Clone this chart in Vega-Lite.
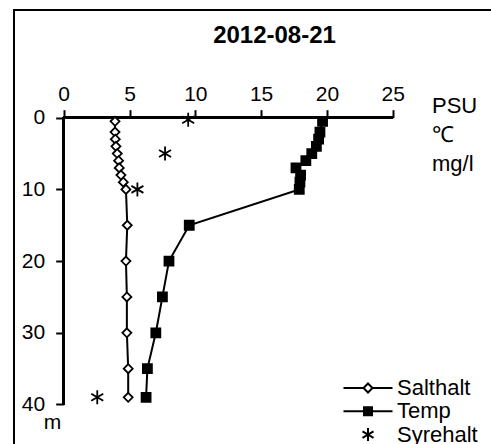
{
  "$schema": "https://vega.github.io/schema/vega-lite/v6.json",
  "autosize": {"type": "none"},
  "padding": {"left": 14, "top": 10, "right": 0, "bottom": 0},
  "width": 477,
  "height": 434,
  "background": "white",
  "title": {
    "text": "2012-08-21",
    "font": "Liberation Sans",
    "fontSize": 24,
    "fontWeight": "bold",
    "color": "black",
    "anchor": "middle",
    "frame": "group",
    "dx": 22,
    "offset": -57,
    "baseline": "alphabetic"
  },
  "config": {
    "view": {"stroke": "black", "strokeWidth": 2, "strokeDash": [477, 911, 434], "fill": "white"},
    "axis": {
      "domain": false,
      "grid": false,
      "ticks": true,
      "tickColor": "black",
      "tickWidth": 2,
      "tickSize": 8,
      "labelColor": "black",
      "labelFont": "Liberation Sans",
      "labelFontSize": 21,
      "labelFlush": false,
      "labelOverlap": false,
      "titleColor": "black",
      "titleFont": "Liberation Sans",
      "titleFontWeight": "normal"
    }
  },
  "data": {
    "values": [
      {"param": "Salthalt", "depth": 0.5, "value": 3.9},
      {"param": "Salthalt", "depth": 2, "value": 3.9},
      {"param": "Salthalt", "depth": 3, "value": 3.92},
      {"param": "Salthalt", "depth": 4, "value": 3.97},
      {"param": "Salthalt", "depth": 5, "value": 4.07},
      {"param": "Salthalt", "depth": 6, "value": 4.17},
      {"param": "Salthalt", "depth": 7, "value": 4.22},
      {"param": "Salthalt", "depth": 8, "value": 4.35},
      {"param": "Salthalt", "depth": 9, "value": 4.53},
      {"param": "Salthalt", "depth": 10, "value": 4.73},
      {"param": "Salthalt", "depth": 15, "value": 4.83},
      {"param": "Salthalt", "depth": 20, "value": 4.73},
      {"param": "Salthalt", "depth": 25, "value": 4.8},
      {"param": "Salthalt", "depth": 30, "value": 4.8},
      {"param": "Salthalt", "depth": 35, "value": 4.9},
      {"param": "Salthalt", "depth": 39, "value": 4.9},
      {"param": "Temp", "depth": 0.5, "value": 19.67},
      {"param": "Temp", "depth": 2, "value": 19.47},
      {"param": "Temp", "depth": 3, "value": 19.37},
      {"param": "Temp", "depth": 4, "value": 19.2},
      {"param": "Temp", "depth": 5, "value": 18.85},
      {"param": "Temp", "depth": 6, "value": 18.4},
      {"param": "Temp", "depth": 7, "value": 17.65},
      {"param": "Temp", "depth": 8, "value": 18.0},
      {"param": "Temp", "depth": 9, "value": 17.95},
      {"param": "Temp", "depth": 10, "value": 17.9},
      {"param": "Temp", "depth": 15, "value": 9.54},
      {"param": "Temp", "depth": 20, "value": 8.0},
      {"param": "Temp", "depth": 25, "value": 7.5},
      {"param": "Temp", "depth": 30, "value": 7.0},
      {"param": "Temp", "depth": 35, "value": 6.36},
      {"param": "Temp", "depth": 39, "value": 6.26},
      {"param": "Syrehalt", "depth": 0.3, "value": 9.46},
      {"param": "Syrehalt", "depth": 5, "value": 7.7},
      {"param": "Syrehalt", "depth": 10, "value": 5.6},
      {"param": "Syrehalt", "depth": 39, "value": 2.55}
    ]
  },
  "resolve": {"scale": {"shape": "independent"}, "legend": {"shape": "independent"}},
  "layer": [
    {
      "mark": {"type": "rule", "color": "black", "strokeWidth": 2},
      "encoding": {
        "x": {"datum": 0, "type": "quantitative"},
        "x2": {"datum": 25},
        "y": {"datum": 0, "type": "quantitative"}
      }
    },
    {
      "mark": {"type": "rule", "color": "black", "strokeWidth": 2},
      "encoding": {
        "x": {"datum": 0, "type": "quantitative"},
        "y": {"datum": 0, "type": "quantitative"},
        "y2": {"datum": 40}
      }
    },
    {
      "transform": [{"filter": "datum.param !== 'Syrehalt'"}],
      "mark": {"type": "line", "color": "black", "strokeWidth": 2},
      "encoding": {
        "x": {
          "field": "value", "type": "quantitative",
          "scale": {"domain": [-3.777, 32.469], "nice": false, "zero": false},
          "axis": {
            "orient": "top",
            "values": [0, 5, 10, 15, 20, 25],
            "offset": -107.7,
            "labelPadding": 5,
            "title": ["PSU", "℃", "mg/l"],
            "titleFontSize": 22,
            "titleLineHeight": 29,
            "titleAngle": 0,
            "titleAlign": "left",
            "titleBaseline": "alphabetic",
            "titleX": 417.5,
            "titleY": -5.7
          }
        },
        "y": {
          "field": "depth", "type": "quantitative",
          "scale": {"domain": [-15.02, 45.51], "nice": false, "zero": false, "reverse": true},
          "axis": {
            "orient": "left",
            "values": [0, 10, 20, 30, 40],
            "offset": -49.7,
            "labelPadding": 11,
            "title": "m",
            "titleFontSize": 21,
            "titleAngle": 0,
            "titleAlign": "center",
            "titleBaseline": "alphabetic",
            "titleX": -11.7,
            "titleY": 418
          }
        },
        "detail": {"field": "param"},
        "order": {"field": "depth", "type": "quantitative"}
      }
    },
    {
      "mark": {"type": "point", "filled": true, "stroke": "black", "strokeWidth": 1.8, "size": 100, "opacity": 1},
      "encoding": {
        "x": {"field": "value", "type": "quantitative"},
        "y": {"field": "depth", "type": "quantitative"},
        "shape": {
          "field": "param", "type": "nominal",
          "scale": {
            "domain": ["Salthalt", "Temp", "Syrehalt"],
            "range": [
              "M0,-0.9L0.9,0L0,0.9L-0.9,0Z",
              "M-0.9,-0.9H0.9V0.9H-0.9Z",
              "M0,-1.4V1.4M-1.2,-0.7L1.2,0.7M-1.2,0.7L1.2,-0.7"
            ]
          },
          "legend": null
        },
        "fill": {
          "field": "param", "type": "nominal",
          "scale": {"domain": ["Salthalt", "Temp", "Syrehalt"], "range": ["white", "black", "black"]},
          "legend": null
        }
      }
    },
    {
      "transform": [{"filter": "false"}],
      "mark": {"type": "point", "filled": false, "color": "black", "strokeWidth": 2, "size": 100, "opacity": 1},
      "encoding": {
        "x": {"field": "value", "type": "quantitative"},
        "y": {"field": "depth", "type": "quantitative"},
        "shape": {
          "field": "param", "type": "nominal",
          "scale": {
            "domain": ["Salthalt", "Temp", "Syrehalt"],
            "range": [
              "M-4.9,0H-0.9M0.9,0H4.9M0,-0.9L0.9,0L0,0.9L-0.9,0Z",
              "M-4.9,0H4.9M-0.8,-0.8H0.8V0.8H-0.8ZM-0.8,-0.4H0.8M-0.8,0.4H0.8",
              "M0,-1.3V1.3M-1.1,-0.65L1.1,0.65M-1.1,0.65L1.1,-0.65"
            ]
          },
          "legend": {
            "title": null,
            "orient": "none",
            "legendX": 343,
            "legendY": 367,
            "padding": 0,
            "rowPadding": 1.3,
            "labelFont": "Liberation Sans",
            "labelFontSize": 22,
            "labelColor": "black",
            "labelOffset": 18,
            "symbolSize": 100,
            "symbolStrokeWidth": 2,
            "symbolOpacity": 1
          }
        }
      }
    }
  ]
}
